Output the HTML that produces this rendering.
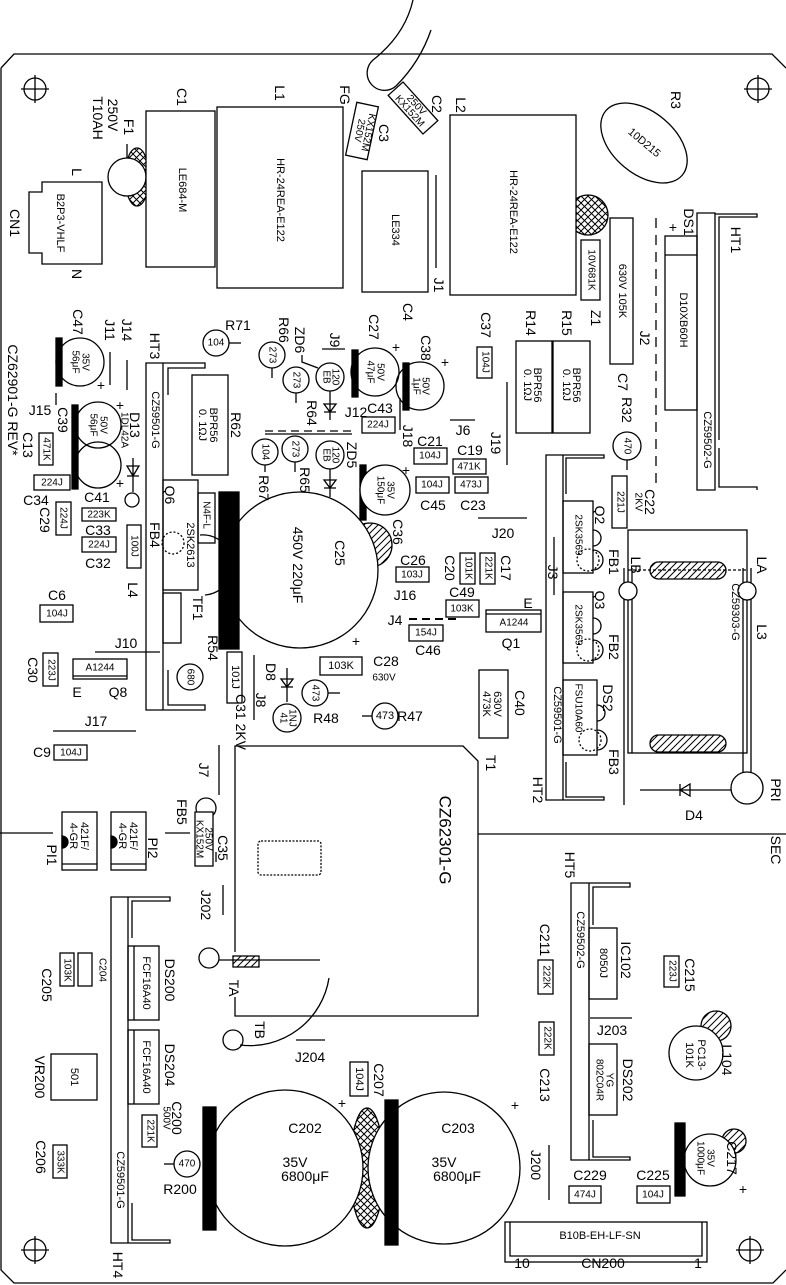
<!DOCTYPE html>
<html><head><meta charset="utf-8"><style>
html,body{margin:0;padding:0;background:#fff}
svg{display:block}
text{font-family:"Liberation Sans",sans-serif;font-size:14px;fill:#000;stroke:none;text-anchor:middle;dominant-baseline:central}
.s{font-size:10px}
.m{font-size:11px}
.b{font-size:17px}
</style></head><body>
<svg width="786" height="1285" viewBox="0 0 786 1285" xmlns="http://www.w3.org/2000/svg" fill="none" stroke="#000" stroke-width="1.3">
<defs>
<pattern id="xh" width="7" height="7" patternUnits="userSpaceOnUse"><path d="M0,0L7,7M7,0L0,7" stroke="#000" stroke-width="1"/></pattern>
<pattern id="dh" width="7" height="7" patternUnits="userSpaceOnUse"><path d="M0,7L7,0M-2,2L2,-2M5,9L9,5" stroke="#000" stroke-width="1"/></pattern>
</defs>
<path d="M1,68 L14,54 L772,54 L786,68 M786,1270 L773,1283 L14,1283 L1,1270 L1,68"/>
<path d="M413,0 Q405,35 373,60 A15,15 0 0 0 396,86 Q420,62 431,30"/>
<g><circle cx="35" cy="89" r="11"/><path d="M21,89h28M35,75v28"/>
<circle cx="758" cy="89" r="11"/><path d="M744,89h28M758,75v28"/>
<circle cx="35" cy="1250" r="11"/><path d="M21,1250h28M35,1236v28"/>
<circle cx="750" cy="1250" r="11"/><path d="M736,1250h28M750,1236v28"/></g>
<path d="M0,833H53M165,833H190M478,834H786"/>

<ellipse cx="137" cy="177" rx="12" ry="29" fill="url(#xh)"/>
<circle cx="127" cy="177" r="19" fill="#fff"/><path d="M127,144V158"/>
<text transform="translate(129,127) rotate(90)">F1</text>
<text transform="translate(113,115) rotate(90)">250V</text>
<text transform="translate(98,118) rotate(90)">T10AH</text>
<rect x="146" y="111" width="69" height="156" fill="#fff"/><text transform="translate(182,190) rotate(90)" class="m">LE684-M</text>
<text transform="translate(182,97) rotate(90)">C1</text>
<rect x="217" y="107" width="126" height="181"/><text transform="translate(280,200) rotate(90)" class="m">HR-24REA-E122</text>
<text transform="translate(280,93) rotate(90)">L1</text>
<path d="M42,182H102V264H42V253H29V192H42Z"/><text transform="translate(60,223) rotate(90)" class="m">B2P3-VHLF</text>
<text transform="translate(15,223) rotate(90)">CN1</text>
<text transform="translate(77,172) rotate(90)">L</text><text transform="translate(77,274) rotate(90)">N</text>
<text transform="translate(345,95) rotate(90)">FG</text>
<g transform="translate(362,131) rotate(12)"><rect x="-11" y="-27" width="22" height="54"/><text transform="rotate(90)" x="0" y="3" class="s">250V</text><text transform="rotate(90)" x="0" y="-6" class="s">KX152M</text></g>
<text transform="translate(384,133) rotate(90)">C3</text>
<g transform="translate(413,108) rotate(48)"><rect x="-26" y="-10" width="52" height="20"/><text x="0" y="-4" class="s">250V</text><text x="0" y="5" class="s">KX152M</text></g>
<text transform="translate(437,104) rotate(90)">C2</text>
<rect x="362" y="171" width="66" height="121"/><text transform="translate(395,230) rotate(90)" class="m">LE334</text>
<path d="M436,175V268"/><text transform="translate(439,285) rotate(90)">J1</text>
<text transform="translate(408,312) rotate(90)">C4</text>
<circle cx="588" cy="215" r="20" fill="url(#xh)"/>
<rect x="450" y="115" width="126" height="180" fill="#fff"/><text transform="translate(513,212) rotate(90)" class="m">HR-24REA-E122</text>
<text transform="translate(461,105) rotate(90)">L2</text>
<g transform="translate(644,143) rotate(40)"><ellipse rx="50" ry="31"/><text class="m">10D215</text></g>
<text transform="translate(676,100) rotate(90)">R3</text>
<rect x="581" y="240" width="19" height="60" fill="#fff"/><text transform="translate(591,270) rotate(90)" class="s">10V681K</text>
<text transform="translate(596,318) rotate(90)">Z1</text>
<rect x="610" y="218" width="23" height="146" fill="#fff"/><text transform="translate(622,291) rotate(90)" class="m">630V  105K</text>
<text transform="translate(623,382) rotate(90)">C7</text>
<path d="M656,218V490" stroke-dasharray="10,7"/><text transform="translate(645,338) rotate(90)">J2</text>
<text x="673" y="227">+</text><text transform="translate(689,222) rotate(90)">DS1</text>
<rect x="665" y="236" width="32" height="174"/><path d="M665,255H697"/><text transform="translate(683,320) rotate(90)" class="m">D10XB60H</text>
<path d="M697,213V490H715V213Z M715,214H757V217H719V440 M719,448V487H757V490"/>
<text transform="translate(736,240) rotate(90)">HT1</text>
<text transform="translate(707,440) rotate(90)" class="m">CZ59502-G</text>
<rect x="516" y="341" width="36" height="92"/><rect x="553" y="341" width="37" height="92"/>
<text transform="translate(537,385) rotate(90)" class="m">BPR56</text><text transform="translate(527,385) rotate(90)" class="m">0. 1ΩJ</text>
<text transform="translate(576,385) rotate(90)" class="m">BPR56</text><text transform="translate(566,385) rotate(90)" class="m">0. 1ΩJ</text>
<text transform="translate(531,323) rotate(90)">R14</text><text transform="translate(567,323) rotate(90)">R15</text>
<rect x="477" y="347" width="15" height="31"/><text transform="translate(485,362) rotate(90)" class="s">104J</text>
<text transform="translate(486,325) rotate(90)">C37</text>

<text transform="translate(13,400) rotate(90)">CZ62901-G  REV*</text>
<rect x="56" y="338" width="6" height="48" fill="#000"/><circle cx="80" cy="362" r="24"/>
<text transform="translate(85,362) rotate(90)" class="s">35V</text><text transform="translate(75,362) rotate(90)" class="s">56μF</text>
<text transform="translate(78,322) rotate(90)">C47</text><text x="101" y="385">+</text>
<path d="M110,352V385M127,360V390"/><text transform="translate(110,330) rotate(90)">J11</text><text transform="translate(127,330) rotate(90)">J14</text>
<text x="40" y="410">J15</text><path d="M56,393V405"/>
<rect x="72" y="405" width="6" height="84" fill="#000"/>
<circle cx="98" cy="425" r="23"/><circle cx="98" cy="465" r="23"/>
<text transform="translate(103,425) rotate(90)" class="s">50V</text><text transform="translate(93,425) rotate(90)" class="s">56μF</text>
<text transform="translate(63,420) rotate(90)">C39</text><text x="120" y="405">+</text><text x="120" y="483">+</text>
<text x="97" y="497">C41</text>
<text transform="translate(135,425) rotate(90)">D13</text><text transform="translate(124,430) rotate(90)" class="s">1DL42A</text>
<path d="M133,458V492M127,466H139L133,476Z M127,476H139"/><circle cx="132" cy="500" r="7"/>
<rect x="39" y="433" width="14" height="32"/><text transform="translate(46,449) rotate(90)" class="s">471K</text>
<text transform="translate(28,445) rotate(90)">C13</text>
<rect x="34" y="475" width="36" height="15"/><text x="52" y="483" class="s">224J</text><text x="36" y="500">C34</text>
<rect x="56" y="502" width="15" height="33"/><text transform="translate(63,518) rotate(90)" class="s">224J</text>
<text transform="translate(45,520) rotate(90)">C29</text>
<rect x="82" y="508" width="34" height="13"/><text x="99" y="515" class="s">223K</text><text x="98" y="530">C33</text>
<rect x="82" y="537" width="34" height="15"/><text x="99" y="545" class="s">224J</text><text x="98" y="563">C32</text>
<rect x="127" y="525" width="14" height="43"/><text transform="translate(134,546) rotate(90)" class="s">100J</text>
<text transform="translate(133,590) rotate(90)">L4</text>
<path d="M146,363V710H163V363Z M163,363H205V368H168V395 M168,670V705H205V710H163"/>
<text transform="translate(155,346) rotate(90)">HT3</text>
<text transform="translate(155,420) rotate(90)" class="m">CZ59501-G</text>
<text transform="translate(155,535) rotate(90)">FB4</text>
<rect x="192" y="375" width="36" height="100"/><text transform="translate(213,425) rotate(90)" class="m">BPR56</text><text transform="translate(202,425) rotate(90)" class="m">0. 1ΩJ</text>
<text transform="translate(236,425) rotate(90)">R62</text>
<circle cx="216" cy="343" r="13"/><text x="216" y="343" class="s">104</text><path d="M229,343H241"/><text x="238" y="325">R71</text>
<rect x="163" y="480" width="35" height="110"/><text transform="translate(170,495) rotate(90)">Q6</text>
<text transform="translate(190,545) rotate(90)" class="m">2SK2613</text>
<rect x="198" y="493" width="17" height="50"/><text transform="translate(206,515) rotate(90)" class="s">N4F-L</text>
<circle cx="173" cy="543" r="11" stroke-dasharray="2,2"/>
<path d="M200,535 A30,30 0 0 1 205,595"/>
<rect x="163" y="593" width="18" height="50"/><text transform="translate(198,608) rotate(90)">TF1</text>
<text transform="translate(213,648) rotate(90)">R54</text>
<circle cx="190" cy="677" r="13"/><text transform="translate(190,677) rotate(90)" class="s">680</text>
<circle cx="370" cy="545" r="22" fill="url(#dh)"/>
<circle cx="300" cy="570" r="78" fill="#fff"/>
<rect x="219" y="492" width="20" height="157" fill="#000"/>
<text transform="translate(298,565) rotate(90)">450V  220μF</text>
<text transform="translate(340,553) rotate(90)">C25</text><text x="356" y="641">+</text>
<rect x="40" y="605" width="33" height="17"/><text x="57" y="614" class="s">104J</text><text x="57" y="595">C6</text>
<text x="126" y="643">J10</text><path d="M95,652H160"/>
<rect x="43" y="653" width="15" height="33"/><text transform="translate(51,670) rotate(90)" class="s">223J</text>
<text transform="translate(33,670) rotate(90)">C30</text>
<rect x="73" y="659" width="54" height="20"/><path d="M73,676H127"/><text x="100" y="668" class="s">A1244</text>
<text x="77" y="692">E</text><text x="118" y="692">Q8</text>
<text x="96" y="721">J17</text><path d="M53,731H136"/>
<text x="42" y="752">C9</text><rect x="54" y="745" width="33" height="15"/><text x="71" y="753" class="s">104J</text>
<rect x="227" y="652" width="15" height="51"/><text transform="translate(235,677) rotate(90)" class="m">101J</text>
<text transform="translate(241,722) rotate(90)">C31 2KV</text>
<path d="M254,655V720"/><text transform="translate(261,700) rotate(90)">J8</text>
<text transform="translate(271,672) rotate(90)">D8</text>
<path d="M287,668V702M281,679H293L287,687Z M281,687H293"/>
<circle cx="287" cy="718" r="14"/><text transform="translate(292,718) rotate(90)" class="s">1NJ</text><text transform="translate(283,718) rotate(90)" class="s">41</text>
<rect x="320" y="657" width="42" height="18"/><text x="341" y="666" class="m">103K</text>
<text x="386" y="661">C28</text><text x="384" y="678" class="s">630V</text>
<circle cx="315" cy="693" r="13"/><text transform="translate(315,693) rotate(90)" class="s">473</text><path d="M328,693H340"/>
<text x="326" y="718">R48</text>
<circle cx="385" cy="716" r="13"/><text x="385" y="716" class="m">473</text><path d="M362,716H372"/><text x="410" y="716">R47</text>

<circle cx="272" cy="355" r="13"/><text transform="translate(272,355) rotate(90)" class="s">273</text><path d="M272,368V378"/>
<text transform="translate(284,330) rotate(90)">R66</text>
<circle cx="296" cy="380" r="13"/><text transform="translate(296,380) rotate(90)" class="s">273</text><path d="M296,393V403"/>
<text transform="translate(300,340) rotate(90)">ZD6</text><path d="M302,355V362L318,368"/>
<circle cx="330" cy="377" r="14"/><text transform="translate(335,377) rotate(90)" class="s">120</text><text transform="translate(326,377) rotate(90)" class="s">EB</text>
<path d="M330,391V420M324,404H336L330,412Z M324,412H336"/>
<text transform="translate(312,413) rotate(90)">R64</text>
<text transform="translate(335,340) rotate(90)">J9</text><path d="M322,349H345"/>
<text x="356" y="412">J12</text>
<path d="M265,431H352" stroke-dasharray="8,5"/><path d="M265,434H352"/>
<rect x="352" y="350" width="6" height="47" fill="#000"/><circle cx="375" cy="372" r="24"/>
<text transform="translate(380,372) rotate(90)" class="s">50V</text><text transform="translate(370,372) rotate(90)" class="s">47μF</text>
<text transform="translate(374,327) rotate(90)">C27</text><text x="396" y="347">+</text>
<rect x="403" y="363" width="6" height="47" fill="#000"/><circle cx="420" cy="386" r="24"/>
<text transform="translate(425,386) rotate(90)" class="s">50V</text><text transform="translate(416,386) rotate(90)" class="s">1μF</text>
<text transform="translate(426,348) rotate(90)">C38</text><text x="445" y="362">+</text>
<path d="M400,398V430"/><text transform="translate(408,436) rotate(90)">J18</text>
<circle cx="265" cy="452" r="13"/><text transform="translate(265,452) rotate(90)" class="s">104</text><path d="M265,465V472"/>
<text transform="translate(264,488) rotate(90)">R67</text>
<circle cx="295" cy="449" r="13"/><text transform="translate(295,449) rotate(90)" class="s">273</text><path d="M295,462V472"/>
<text transform="translate(305,480) rotate(90)">R65</text>
<circle cx="330" cy="455" r="14"/><text transform="translate(335,455) rotate(90)" class="s">120</text><text transform="translate(326,455) rotate(90)" class="s">EB</text>
<path d="M330,469V497M324,480H336L330,488Z M324,488H336"/>
<text transform="translate(352,455) rotate(90)">ZD5</text>
<text x="380" y="408">C43</text><rect x="362" y="417" width="33" height="16"/><text x="378" y="425" class="s">224J</text>
<rect x="360" y="465" width="6" height="55" fill="#000"/><circle cx="385" cy="490" r="25" fill="#fff"/>
<text transform="translate(390,490) rotate(90)" class="s">35V</text><text transform="translate(380,490) rotate(90)" class="s">150μF</text>
<text transform="translate(398,532) rotate(90)">C36</text><text x="406" y="470">+</text>
<text x="430" y="441">C21</text><rect x="414" y="448" width="33" height="16"/><text x="430" y="456" class="s">104J</text>
<rect x="416" y="477" width="33" height="16"/><text x="432" y="485" class="s">104J</text><text x="433" y="505">C45</text>
<text x="470" y="450">C19</text><rect x="453" y="459" width="33" height="15"/><text x="469" y="467" class="s">471K</text>
<rect x="455" y="477" width="33" height="16"/><text x="471" y="485" class="s">473J</text><text x="473" y="505">C23</text>
<text x="463" y="430">J6</text><path d="M450,420H475"/>
<text transform="translate(496,443) rotate(90)">J19</text><path d="M507,382V465"/>
<text x="503" y="533">J20</text><path d="M478,518H527"/>
<text x="413" y="560">C26</text><rect x="396" y="567" width="33" height="15"/><text x="412" y="575" class="s">103J</text>
<text x="405" y="595">J16</text>
<rect x="460" y="553" width="15" height="31"/><text transform="translate(468,568) rotate(90)" class="s">101K</text>
<text transform="translate(450,568) rotate(90)">C20</text>
<rect x="480" y="553" width="15" height="31"/><text transform="translate(488,568) rotate(90)" class="s">221K</text>
<text transform="translate(506,568) rotate(90)">C17</text>
<text x="462" y="592">C49</text><rect x="446" y="600" width="33" height="17"/><text x="462" y="609" class="s">103K</text>
<text x="395" y="620">J4</text><path d="M409,619H459" stroke-dasharray="8,5" stroke-width="2"/>
<rect x="409" y="625" width="34" height="16"/><text x="426" y="633" class="s">154J</text><text x="428" y="650">C46</text>
<text x="528" y="603">E</text>
<rect x="486" y="610" width="55" height="22"/><path d="M486,614H541"/><text x="514" y="623" class="s">A1244</text>
<text x="511" y="643">Q1</text>
<rect x="479" y="670" width="29" height="68"/><text transform="translate(497,704) rotate(90)" class="m">630V</text><text transform="translate(486,704) rotate(90)" class="m">473K</text>
<text transform="translate(520,703) rotate(90)">C40</text>

<circle cx="627" cy="446" r="14"/><text transform="translate(627,446) rotate(90)" class="s">470</text><path d="M627,460V470"/>
<text transform="translate(627,410) rotate(90)">R32</text>
<rect x="612" y="476" width="15" height="52"/><text transform="translate(620,502) rotate(90)" class="s">221J</text>
<text transform="translate(650,502) rotate(90)">C22</text><text transform="translate(638,502) rotate(90)" class="s">2KV</text>
<path d="M546,455V800H563V455Z M563,455H604V458H566V494 M566,762V797H604V800H563"/>
<text transform="translate(553,572) rotate(90)">J3</text><path d="M554,537V595"/>
<text transform="translate(557,715) rotate(90)" class="m">CZ59501-G</text>
<text transform="translate(538,790) rotate(90)">HT2</text>
<rect x="563" y="501" width="30" height="72"/><text transform="translate(578,535) rotate(90)" class="s">2SK3569</text>
<path d="M593,530 A8,8 0 0 1 593,546"/><circle cx="588" cy="560" r="11" stroke-dasharray="2,2"/><path d="M593,550 A10,10 0 0 1 593,570"/>
<text transform="translate(600,515) rotate(90)">Q2</text><text transform="translate(614,562) rotate(90)">FB1</text>
<rect x="563" y="592" width="30" height="71"/><text transform="translate(578,625) rotate(90)" class="s">2SK3569</text>
<path d="M593,618 A8,8 0 0 1 593,634"/><circle cx="588" cy="650" r="11" stroke-dasharray="2,2"/><path d="M593,640 A10,10 0 0 1 593,660"/>
<text transform="translate(600,600) rotate(90)">Q3</text><text transform="translate(614,647) rotate(90)">FB2</text>
<rect x="563" y="680" width="34" height="75"/><text transform="translate(578,708) rotate(90)" class="s">FSU10A60</text>
<path d="M597,705 A8,8 0 0 1 597,721"/><circle cx="590" cy="740" r="11" stroke-dasharray="2,2"/><path d="M597,730 A10,10 0 0 1 597,750"/>
<text transform="translate(608,698) rotate(90)">DS2</text><text transform="translate(614,762) rotate(90)">FB3</text>
<rect x="628" y="530" width="119" height="223"/>
<path d="M624,568V805M632,568V753M743,568V772M751,568V772"/>
<rect x="650" y="562" width="76" height="17" rx="8.5" fill="url(#dh)"/>
<rect x="650" y="735" width="76" height="17" rx="8.5" fill="url(#dh)"/>
<path d="M628,570H747" stroke-dasharray="3,2"/>
<circle cx="628" cy="591" r="9" fill="#fff"/><circle cx="747" cy="591" r="9" fill="#fff"/>
<text transform="translate(636,565) rotate(90)">LB</text><text transform="translate(762,565) rotate(90)">LA</text>
<text transform="translate(762,632) rotate(90)">L3</text>
<text transform="translate(735,612) rotate(90)" class="m">CZ59303-G</text>
<circle cx="747" cy="788" r="16" fill="#fff"/><path d="M640,790H731 M680,784V796 M680,790L690,784V796Z M690,784V796"/>
<text x="694" y="815">D4</text>
<text transform="translate(776,790) rotate(90)">PRI</text><text transform="translate(776,850) rotate(90)">SEC</text>

<path d="M219,745V795"/><text transform="translate(204,770) rotate(90)">J7</text>
<circle cx="206" cy="808" r="10"/><text transform="translate(182,812) rotate(90)">FB5</text>
<rect x="195" y="812" width="18" height="54" fill="#fff"/><text transform="translate(208,839) rotate(90)" class="s">250V</text><text transform="translate(199,839) rotate(90)" class="s">KX152M</text>
<text transform="translate(223,848) rotate(90)">C35</text><path d="M216,852V862"/>
<rect x="62" y="812" width="35" height="58"/><path d="M62,864H97"/><text transform="translate(84,836) rotate(90)" class="m">421F/</text><text transform="translate(73,836) rotate(90)" class="m">4-GR</text>
<path d="M62,836A6,6 0 0 1 62,848Z" fill="#000"/><text transform="translate(52,855) rotate(90)">PI1</text>
<rect x="111" y="812" width="35" height="58"/><path d="M111,864H146"/><text transform="translate(133,836) rotate(90)" class="m">421F/</text><text transform="translate(122,836) rotate(90)" class="m">4-GR</text>
<path d="M111,836A6,6 0 0 1 111,848Z" fill="#000"/><text transform="translate(153,848) rotate(90)">PI2</text>
<path d="M223,885V915"/><text transform="translate(206,905) rotate(90)">J202</text>
<path d="M235,952V746H463L478,761V1016H235V997"/>
<text transform="translate(491,763) rotate(90)">T1</text>
<text transform="translate(445,840) rotate(90)" class="b">CZ62301-G</text>
<rect x="258" y="841" width="63" height="34" rx="3" stroke-dasharray="2,1.5"/>
<circle cx="209" cy="958" r="10"/><path d="M219,960H320"/>
<rect x="233" y="956" width="26" height="11" fill="url(#dh)"/>
<text transform="translate(234,988) rotate(90)">TA</text>
<path d="M329,978 A80,80 0 0 1 240,1045"/>
<circle cx="233" cy="1040" r="10"/><text transform="translate(260,1030) rotate(90)">TB</text>
<path d="M296,1040H325"/><text x="310" y="1057">J204</text>
<path d="M111,897V1243H128V897Z M128,897H170V901H132V938 M132,1203V1240H170V1243H128"/>
<text transform="translate(120,1180) rotate(90)" class="m">CZ59501-G</text>
<text transform="translate(118,1265) rotate(90)">HT4</text>
<rect x="128" y="946" width="31" height="74"/><path d="M134,946V1020"/><text transform="translate(146,983) rotate(90)" class="m">FCF16A40</text>
<text transform="translate(170,980) rotate(90)">DS200</text>
<rect x="128" y="1030" width="31" height="74"/><path d="M134,1030V1104"/><text transform="translate(146,1067) rotate(90)" class="m">FCF16A40</text>
<text transform="translate(170,1065) rotate(90)">DS204</text>
<rect x="60" y="953" width="14" height="33"/><text transform="translate(67,970) rotate(90)" class="s">103K</text>
<text transform="translate(47,985) rotate(90)">C205</text>
<rect x="78" y="953" width="14" height="33"/><text transform="translate(102,970) rotate(90)" class="s">C204</text>
<rect x="51" y="1054" width="46" height="46"/><text transform="translate(74,1077) rotate(90)" class="m">501</text>
<text transform="translate(40,1077) rotate(90)">VR200</text>
<rect x="53" y="1145" width="14" height="33"/><text transform="translate(60,1162) rotate(90)" class="s">333K</text>
<text transform="translate(41,1157) rotate(90)">C206</text>
<rect x="142" y="1115" width="15" height="32"/><text transform="translate(150,1131) rotate(90)" class="s">221K</text>
<text transform="translate(177,1118) rotate(90)">C200</text><text transform="translate(166,1118) rotate(90)" class="s">500V</text>
<circle cx="187" cy="1164" r="13"/><text x="187" y="1164" class="s">470</text><path d="M164,1164H174"/>
<text x="180" y="1189">R200</text>
<ellipse cx="367" cy="1168" rx="17" ry="60" fill="url(#xh)"/>
<circle cx="285" cy="1168" r="78" fill="#fff"/><circle cx="444" cy="1168" r="76" fill="#fff"/>
<rect x="203" y="1107" width="13" height="123" fill="#000"/>
<rect x="385" y="1100" width="13" height="145" fill="#000"/>
<text x="305" y="1128">C202</text><text x="295" y="1162">35V</text><text x="305" y="1176">6800μF</text>
<text x="458" y="1128">C203</text><text x="444" y="1162">35V</text><text x="457" y="1176">6800μF</text>
<text x="342" y="1103">+</text><text x="515" y="1105">+</text>
<rect x="350" y="1062" width="18" height="34" fill="#fff"/><text transform="translate(359,1079) rotate(90)" class="m">104J</text>
<text transform="translate(379,1080) rotate(90)">C207</text>
<path d="M571,883V1160H589V883Z M589,883H630V887H593V925 M593,1120V1157H630V1160H589"/>
<text transform="translate(570,865) rotate(90)">HT5</text>
<text transform="translate(580,940) rotate(90)" class="m">CZ59502-G</text>
<rect x="589" y="928" width="28" height="71"/><text transform="translate(603,963) rotate(90)" class="m">8050J</text>
<text transform="translate(626,960) rotate(90)">IC102</text>
<path d="M590,1018H632"/><text x="612" y="1030">J203</text>
<rect x="589" y="1044" width="28" height="71"/><text transform="translate(609,1080) rotate(90)" class="s">YG</text><text transform="translate(599,1080) rotate(90)" class="s">802C04R</text>
<text transform="translate(628,1080) rotate(90)">DS202</text>
<rect x="538" y="960" width="15" height="34"/><text transform="translate(546,977) rotate(90)" class="s">222K</text>
<text transform="translate(545,940) rotate(90)">C211</text>
<rect x="539" y="1022" width="15" height="33"/><text transform="translate(547,1038) rotate(90)" class="s">222K</text>
<text transform="translate(545,1085) rotate(90)">C213</text>
<rect x="664" y="956" width="15" height="31"/><text transform="translate(672,971) rotate(90)" class="s">223J</text>
<text transform="translate(690,975) rotate(90)">C215</text>
<circle cx="716" cy="1026" r="15" fill="url(#dh)"/>
<circle cx="696" cy="1053" r="27" fill="#fff"/>
<text transform="translate(701,1055) rotate(90)" class="m">PC13-</text><text transform="translate(689,1055) rotate(90)" class="m">101K</text>
<text transform="translate(727,1060) rotate(90)">L104</text>
<circle cx="734" cy="1141" r="12" fill="url(#dh)"/>
<circle cx="710" cy="1160" r="26" fill="#fff"/><rect x="675" y="1123" width="10" height="73" fill="#000"/>
<text transform="translate(710,1158) rotate(90)" class="s">35V</text><text transform="translate(700,1158) rotate(90)" class="s">1000μF</text>
<text transform="translate(732,1158) rotate(90)">C217</text><text x="743" y="1189">+</text>
<path d="M549,1145V1200"/><text transform="translate(536,1165) rotate(90)">J200</text>
<text x="590" y="1175">C229</text><rect x="569" y="1186" width="32" height="17"/><text x="585" y="1195" class="s">474J</text>
<text x="653" y="1175">C225</text><rect x="637" y="1186" width="33" height="17"/><text x="653" y="1195" class="s">104J</text>
<rect x="505" y="1222" width="202" height="40"/><path d="M510,1222V1256H702V1222"/>
<text x="600" y="1236" class="m">B10B-EH-LF-SN</text>
<text x="522" y="1263">10</text><text x="603" y="1263">CN200</text><text x="698" y="1263">1</text>
</svg>
</body></html>
